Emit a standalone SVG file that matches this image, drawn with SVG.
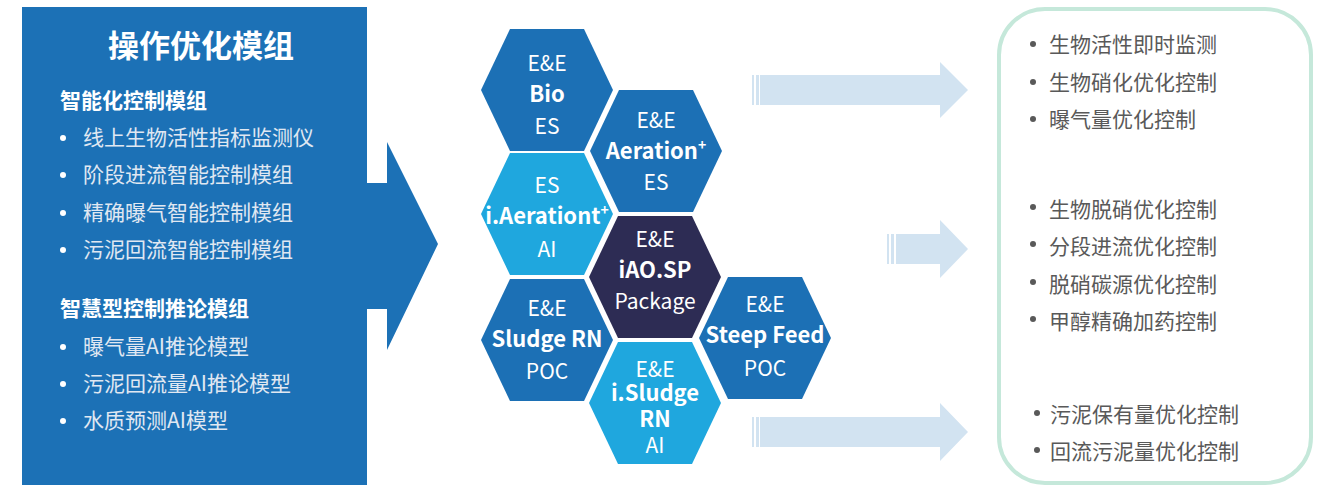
<svg xmlns="http://www.w3.org/2000/svg" xmlns:xlink="http://www.w3.org/1999/xlink" width="1325" height="488" viewBox="0 0 1325 488">
<style>
.cjk{font-family:"Noto Sans CJK SC","Noto Sans",sans-serif}
.title{font-size:31px;font-weight:700;fill:#ffffff}
.sub{font-size:21px;font-weight:700;fill:#ffffff}
.li{font-size:21px;font-weight:400;fill:#E0E8F2}
.dot{fill:#ffffff}
.hx{font-family:"Noto Sans CJK SC","Noto Sans",sans-serif;font-size:21px;fill:#ffffff;text-anchor:middle}
.hb{font-weight:700;font-size:22px}
.rt{font-size:21px;fill:#595959}
.rdot{fill:#595959}
.arr{fill:#D2E3F1}
.mid{fill:#1C70B5}
.lt{fill:#1FA7DE}
.dk{fill:#2D2C54}
</style>
<defs>
<path id="hex" d="M-66,0 L-37,-61 L37,-61 L66,0 L37,61 L-37,61 Z"/>
</defs>
<rect width="1325" height="488" fill="#ffffff"/>

<g id="left-panel">
<path d="M22,7 H367 V183 H387 V142 L438,244 L387,350 V309 H367 V485 H22 Z" fill="#1C71B6"/>
<text class="cjk title" x="201" y="57" text-anchor="middle">操作优化模组</text>
<text class="cjk sub" x="60" y="108">智能化控制模组</text>
<circle class="dot" cx="63" cy="138" r="3"/>
<text class="cjk li" x="83" y="145">线上生物活性指标监测仪</text>
<circle class="dot" cx="63" cy="175" r="3"/>
<text class="cjk li" x="83" y="182">阶段进流智能控制模组</text>
<circle class="dot" cx="63" cy="213" r="3"/>
<text class="cjk li" x="83" y="220">精确曝气智能控制模组</text>
<circle class="dot" cx="63" cy="250" r="3"/>
<text class="cjk li" x="83" y="257">污泥回流智能控制模组</text>
<text class="cjk sub" x="60" y="316">智慧型控制推论模组</text>
<circle class="dot" cx="63" cy="347" r="3"/>
<text class="cjk li" x="83" y="354">曝气量AI推论模型</text>
<circle class="dot" cx="63" cy="384" r="3"/>
<text class="cjk li" x="83" y="391">污泥回流量AI推论模型</text>
<circle class="dot" cx="63" cy="421" r="3"/>
<text class="cjk li" x="83" y="428">水质预测AI模型</text>
</g>

<g id="hex-bio">
<use xlink:href="#hex" href="#hex" x="547" y="90" class="mid"/>
<text class="hx" x="547" y="71">E&amp;E</text>
<text class="hx hb" x="547" y="102">Bio</text>
<text class="hx" x="547" y="134">ES</text>
</g>
<g id="hex-aeration">
<use xlink:href="#hex" href="#hex" x="656" y="151" class="mid"/>
<text class="hx" x="656" y="128">E&amp;E</text>
<text class="hx hb" x="656" y="159">Aeration<tspan font-size="14" dy="-9">+</tspan></text>
<text class="hx" x="656" y="190">ES</text>
</g>
<g id="hex-iaeration">
<use xlink:href="#hex" href="#hex" x="547" y="214" class="lt"/>
<text class="hx" x="547" y="193">ES</text>
<text class="hx hb" x="547" y="224">i.Aerationt<tspan font-size="14" dy="-9">+</tspan></text>
<text class="hx" x="547" y="257">AI</text>
</g>
<g id="hex-iaosp">
<use xlink:href="#hex" href="#hex" x="655" y="277" class="dk"/>
<text class="hx" x="655" y="247">E&amp;E</text>
<text class="hx hb" x="655" y="278">iAO.SP</text>
<text class="hx" x="655" y="309">Package</text>
</g>
<g id="hex-sludge">
<use xlink:href="#hex" href="#hex" x="547" y="340" class="mid"/>
<text class="hx" x="547" y="316">E&amp;E</text>
<text class="hx hb" x="547" y="347">Sludge RN</text>
<text class="hx" x="547" y="379">POC</text>
</g>
<g id="hex-isludge">
<use xlink:href="#hex" href="#hex" x="655" y="403" class="lt"/>
<text class="hx" x="655" y="377">E&amp;E</text>
<text class="hx hb" x="655" y="401">i.Sludge</text>
<text class="hx hb" x="655" y="427">RN</text>
<text class="hx" x="655" y="453">AI</text>
</g>
<g id="hex-steep">
<use xlink:href="#hex" href="#hex" x="765" y="338" class="mid"/>
<text class="hx" x="765" y="312">E&amp;E</text>
<text class="hx hb" x="765" y="343">Steep Feed</text>
<text class="hx" x="765" y="376">POC</text>
</g>

<g id="connectors">
<g class="arr">
<rect x="752" y="75" width="2" height="30"/>
<rect x="756" y="75" width="3" height="30"/>
<path d="M760,75 H940 V62 L968,90 L940,118 V105 H760 Z"/>
<rect x="887" y="234" width="2" height="30"/>
<rect x="891" y="234" width="3" height="30"/>
<path d="M896,234 H940 V220 L968,249 L940,278 V264 H896 Z"/>
<rect x="752" y="417" width="2" height="30"/>
<rect x="756" y="417" width="3" height="30"/>
<path d="M760,417 H940 V403 L968,432 L940,461 V447 H760 Z"/>
</g>
</g>

<g id="right-panel">
<rect x="999" y="9" width="312" height="474" rx="46" ry="46" fill="#ffffff" stroke="#C5E8DA" stroke-width="4"/>
<circle class="rdot" cx="1033" cy="44" r="3"/>
<text class="cjk rt" x="1049" y="52">生物活性即时监测</text>
<circle class="rdot" cx="1033" cy="82" r="3"/>
<text class="cjk rt" x="1049" y="90">生物硝化优化控制</text>
<circle class="rdot" cx="1033" cy="119" r="3"/>
<text class="cjk rt" x="1049" y="127">曝气量优化控制</text>
<circle class="rdot" cx="1033" cy="207" r="3"/>
<text class="cjk rt" x="1049" y="217">生物脱硝优化控制</text>
<circle class="rdot" cx="1033" cy="244" r="3"/>
<text class="cjk rt" x="1049" y="254">分段进流优化控制</text>
<circle class="rdot" cx="1033" cy="282" r="3"/>
<text class="cjk rt" x="1049" y="292">脱硝碳源优化控制</text>
<circle class="rdot" cx="1033" cy="319" r="3"/>
<text class="cjk rt" x="1049" y="329">甲醇精确加药控制</text>
<circle class="rdot" cx="1037" cy="413" r="3"/>
<text class="cjk rt" x="1050" y="422">污泥保有量优化控制</text>
<circle class="rdot" cx="1037" cy="450" r="3"/>
<text class="cjk rt" x="1050" y="459">回流污泥量优化控制</text>
</g>
</svg>
